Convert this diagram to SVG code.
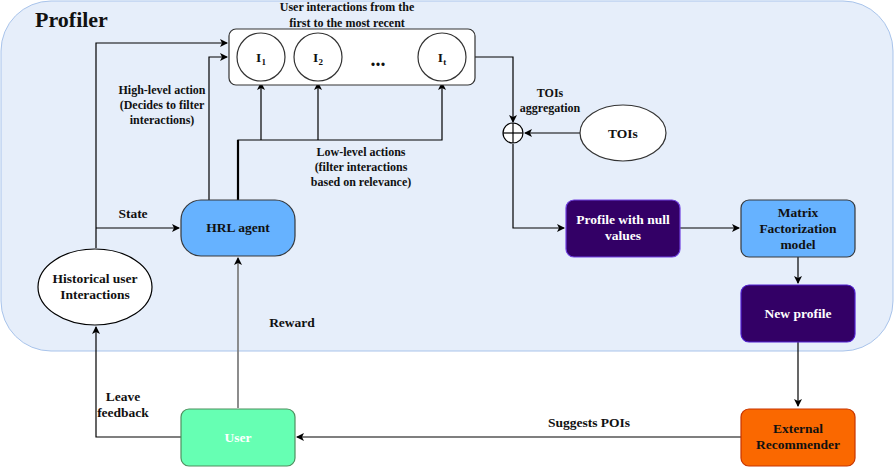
<svg xmlns="http://www.w3.org/2000/svg" width="894" height="467" viewBox="0 0 894 467" font-family="'Liberation Serif', 'Times New Roman', serif">
<defs>
<marker id="arr" markerWidth="10" markerHeight="10" refX="8" refY="5" orient="auto" markerUnits="userSpaceOnUse">
<path d="M1,1 L9,5 L1,9 L3,5 Z" fill="#000"/>
</marker>
<style>
text{font-weight:bold;font-size:12px;fill:#111;text-anchor:middle}
.n{font-size:13.5px}
.w{fill:#fff}
.edge{fill:none;stroke:#000;stroke-width:1.2}
.node{stroke-width:1.2}
</style>
</defs>
<rect x="1" y="1" width="892" height="350" rx="50" fill="#e6eefa" stroke="#a9c4eb" stroke-width="1"/>
<text x="35" y="27" style="font-size:22px;text-anchor:start">Profiler</text>

<g id="connectors">
<polyline class="edge" points="96,248 96,43 227,43" marker-end="url(#arr)"/>
<polyline class="edge" points="209,200 209,57 227,57" marker-end="url(#arr)"/>
<polyline class="edge" points="96,228 179,228" marker-end="url(#arr)"/>
<polyline class="edge" points="238,200 238,140 442,140 442,83" marker-end="url(#arr)"/>
<line x1="238" y1="200" x2="238" y2="140" stroke="#000" stroke-width="2.2"/>
<polyline class="edge" points="261,140 261,83" marker-end="url(#arr)"/>
<polyline class="edge" points="318,140 318,83" marker-end="url(#arr)"/>
<polyline class="edge" points="475,57 513,57 513,122" marker-end="url(#arr)"/>
<polyline class="edge" points="580,133 525,133" marker-end="url(#arr)"/>
<polyline class="edge" points="513,144 513,228 564,228" marker-end="url(#arr)"/>
<polyline class="edge" points="680,228 739,228" marker-end="url(#arr)"/>
<polyline class="edge" points="798,257 798,283" marker-end="url(#arr)"/>
<polyline class="edge" points="798,342 798,406" marker-end="url(#arr)"/>
<polyline class="edge" points="741,437 297,437" marker-end="url(#arr)"/>
<polyline class="edge" points="181,437 96,437 96,327" marker-end="url(#arr)"/>
<polyline class="edge" points="238,408 238,258" marker-end="url(#arr)" style="stroke:#808080;stroke-width:1.8"/>
<text x="162" y="94">High-level action</text>
<text x="162" y="109">(Decides to filter</text>
<text x="162" y="124">interactions)</text>
<text x="361" y="156">Low-level actions</text>
<text x="361" y="171">(filter interactions</text>
<text x="361" y="186">based on relevance)</text>
<text class="n" x="133" y="218">State</text>
<text class="n" x="292" y="327">Reward</text>
<text class="n" x="123" y="401">Leave</text>
<text class="n" x="123" y="417">feedback</text>
<text class="n" x="589" y="427">Suggests POIs</text>
<text x="550" y="97">TOIs</text>
<text x="550" y="112">aggregation</text>
</g>

<g id="interactions">
<text x="347" y="11">User interactions from the</text>
<text x="347" y="27">first to the most recent</text>
<rect x="229" y="29" width="246" height="56" rx="7" fill="#fff" stroke="#333" stroke-width="1.2"/>
<circle cx="261" cy="57" r="24" fill="#fff" stroke="#333" stroke-width="1.2"/>
<circle cx="318" cy="57" r="24" fill="#fff" stroke="#333" stroke-width="1.2"/>
<circle cx="442" cy="57" r="24" fill="#fff" stroke="#333" stroke-width="1.2"/>
<text class="n" x="261" y="62">I<tspan dy="3" font-size="9">1</tspan></text>
<text class="n" x="318" y="62">I<tspan dy="3" font-size="9">2</tspan></text>
<text class="n" x="442" y="62">I<tspan dy="3" font-size="9">t</tspan></text>
<text x="378" y="66" style="font-size:20px">...</text>
</g>

<g id="hrl-agent">
<rect class="node" x="181" y="200" width="114" height="56" rx="20" fill="#66b2ff" stroke="#36393d"/>
<text class="n" x="238" y="232">HRL agent</text>
</g>

<g id="historical">
<ellipse class="node" cx="95" cy="287" rx="57" ry="38" fill="#fff" stroke="#000"/>
<text class="n" x="95" y="283">Historical user</text>
<text class="n" x="95" y="299">Interactions</text>
</g>

<g id="user">
<rect class="node" x="181" y="409" width="114" height="57" rx="8" fill="#66ffb3" stroke="#4f8f5f"/>
<text class="n w" x="238" y="442">User</text>
</g>

<g id="aggregation">
<circle cx="513" cy="133" r="10" fill="#fff" stroke="#000" stroke-width="1.2"/>
<line x1="503" y1="133" x2="523" y2="133" stroke="#000" stroke-width="1.2"/>
<line x1="513" y1="123" x2="513" y2="143" stroke="#000" stroke-width="1.2"/>
</g>

<g id="tois">
<ellipse class="node" cx="623" cy="133" rx="43" ry="28" fill="#fff" stroke="#333"/>
<text class="n" x="623" y="138">TOIs</text>
</g>

<g id="profile-null">
<rect class="node" x="566" y="200" width="114" height="57" rx="8" fill="#330066" stroke="#7040e0"/>
<text class="n w" x="623" y="224">Profile with null</text>
<text class="n w" x="623" y="240">values</text>
</g>

<g id="matrix-factorization">
<rect class="node" x="741" y="200" width="114" height="57" rx="8" fill="#66b2ff" stroke="#36393d"/>
<text class="n" x="798" y="217">Matrix</text>
<text class="n" x="798" y="233">Factorization</text>
<text class="n" x="798" y="249">model</text>
</g>

<g id="new-profile">
<rect class="node" x="741" y="285" width="114" height="57" rx="8" fill="#330066" stroke="#5020d0"/>
<text class="n w" x="798" y="318">New profile</text>
</g>

<g id="external-recommender">
<rect class="node" x="741" y="409" width="114" height="57" rx="8" fill="#fa6800" stroke="#c73500"/>
<text class="n" x="798" y="433">External</text>
<text class="n" x="798" y="449">Recommender</text>
</g>
</svg>
